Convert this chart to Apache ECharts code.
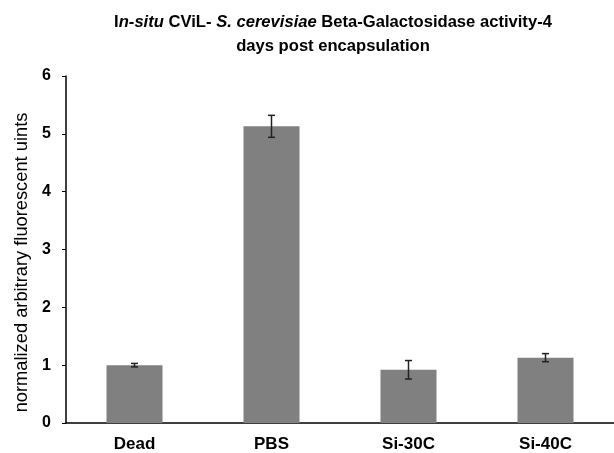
<!DOCTYPE html>
<html>
<head>
<meta charset="utf-8">
<script src="https://cdn.jsdelivr.net/npm/echarts@6/dist/echarts.min.js"></script>
<style>html,body{margin:0;padding:0;background:#fff}#c{width:614px;height:453px}</style>
</head>
<body>
<div id="c"></div>
<script>
var categories = ['Dead', 'PBS', 'Si-30C', 'Si-40C'];
var values = [1.00, 5.13, 0.92, 1.13];
var errors = [0.03, 0.19, 0.16, 0.07];
var yTicks = [0, 1, 2, 3, 4, 5, 6];

var chart = echarts.init(document.getElementById('c'));
var errData = categories.map(function (c, i) { return [i, values[i] - errors[i], values[i] + errors[i]]; });
var FONT = 'Liberation Sans, Arial, sans-serif';
chart.setOption({
  animation: false,
  title: {
    text: 'I{bi|n-situ} CViL- {bi|S. cerevisiae} Beta-Galactosidase activity-4\ndays post encapsulation',
    left: 328, top: 5, textAlign: 'center',
    textStyle: {
      fontFamily: FONT, fontSize: 16.6, fontWeight: 'bold', color: '#000', lineHeight: 24,
      rich: { bi: { fontFamily: FONT, fontSize: 16.6, fontWeight: 'bold', fontStyle: 'italic', color: '#000', lineHeight: 24 } }
    }
  },
  grid: { left: 66, right: -8, top: 76, bottom: 30, containLabel: false },
  xAxis: {
    type: 'category', data: categories,
    axisLine: { lineStyle: { color: '#000', width: 1.5 } },
    axisTick: { show: false },
    axisLabel: { color: '#000', fontFamily: FONT, fontWeight: 'bold', fontSize: 17, margin: 13 }
  },
  yAxis: {
    type: 'value', min: yTicks[0], max: yTicks[yTicks.length - 1], interval: 1,
    name: 'normalized arbitrary fluorescent uints', nameLocation: 'middle', nameGap: 35,
    nameTextStyle: { color: '#000', fontFamily: FONT, fontSize: 18.3, padding: [0, 26, 0, 0] },
    axisLine: { show: true, lineStyle: { color: '#000', width: 1.5 } },
    axisTick: { show: true, length: 4, lineStyle: { color: '#000' } },
    splitLine: { show: false },
    axisLabel: { color: '#000', fontFamily: FONT, fontWeight: 'bold', fontSize: 16, margin: 15 }
  },
  series: [{
    type: 'bar', data: values, barWidth: 56,
    itemStyle: { color: '#808080' }, z: 2
  }, {
    type: 'custom', data: errData, z: 3,
    renderItem: function (params, api) {
      var x = api.value(0);
      var lo = api.coord([x, api.value(1)]);
      var hi = api.coord([x, api.value(2)]);
      var w = 3.5;
      var st = { stroke: '#222', lineWidth: 1.5 };
      return { type: 'group', children: [
        { type: 'line', shape: { x1: lo[0], y1: lo[1], x2: hi[0], y2: hi[1] }, style: st },
        { type: 'line', shape: { x1: lo[0] - w, y1: lo[1], x2: lo[0] + w, y2: lo[1] }, style: st },
        { type: 'line', shape: { x1: hi[0] - w, y1: hi[1], x2: hi[0] + w, y2: hi[1] }, style: st }
      ]};
    }
  }]
});
</script>
</body>
</html>
